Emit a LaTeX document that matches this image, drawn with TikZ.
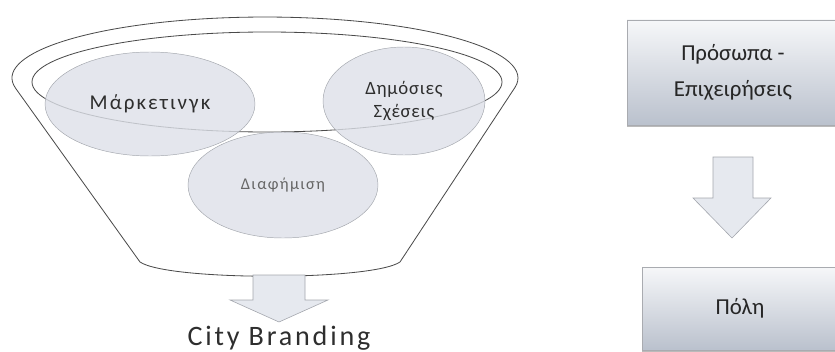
\documentclass[tikz,border=0pt]{standalone}
\usepackage{fontspec}
\setmainfont{Carlito}
\usetikzlibrary{positioning,calc,shapes.geometric,shadows}
\definecolor{fnLine}{HTML}{4A4A4A}
\definecolor{fnOval}{HTML}{DDE0E8}
\definecolor{fnOvalD}{HTML}{A3A6AD}
\definecolor{fnText}{HTML}{2E2E2E}
\definecolor{pbTop}{HTML}{F6F7F9}
\definecolor{pbBot}{HTML}{BAC1CD}
\definecolor{pbEdge}{HTML}{A9ABB0}
\definecolor{pbArrow}{HTML}{E6E9EF}
\tikzset{
  fn-line/.style={draw=fnLine, line width=0.7pt},
  fn-oval/.style={ellipse, draw=fnOvalD, line width=0.4pt, fill=fnOval,
    fill opacity=0.8, text opacity=1, inner sep=0pt, align=center,
    text=fnText, font=\fontsize{16}{19}\selectfont\addfontfeatures{LetterSpace=4}},
  fn-title/.style={font=\fontsize{24}{28}\selectfont\addfontfeatures{LetterSpace=10},
    text=fnText},
  pb-box/.style={draw=pbEdge, line width=0.5pt, top color=pbTop,
    bottom color=pbBot, font=\fontsize{19.5}{31}\selectfont, align=center,
    text=black!85, drop shadow={shadow xshift=0pt, shadow yshift=-1.5pt,
    opacity=0.45, fill=black!60}},
  pb-arrow/.style={draw=fnOvalD, line width=0.5pt, fill=pbArrow}
}
\begin{document}
\begin{tikzpicture}[x=0.03cm, y=0.03cm]
\useasboundingbox (0,0) rectangle (835,351);
\clip (0,0) rectangle (835,351);

% funnel
\draw[fn-line] (15.7,262.6) arc[start angle=189.8, end angle=-9, x radius=253, y radius=61]
  -- (400,89) .. controls (372,70) and (168,70) .. (140,89) -- cycle;
\draw[fn-line] (267,269) ellipse[x radius=235, y radius=50];

\node[fn-oval, minimum width=6.3cm, minimum height=3.12cm,
  font=\fontsize{18}{20}\selectfont\addfontfeatures{LetterSpace=10}] (mark) at (150,247)
  {Μάρκετινγκ};
\node[fn-oval, minimum width=4.86cm, minimum height=3.24cm] (dimos) at (404,250)
  {Δημόσιες\\Σχέσεις};
\node[fn-oval, minimum width=5.7cm, minimum height=3.18cm, text=black!60,
  font=\fontsize{14}{16}\selectfont\addfontfeatures{LetterSpace=8}] (diaf) at (283,166)
  {Διαφήμιση};

\draw[pb-arrow] (253,76) -- (253,51) -- (230,51) -- (279,29) -- (328,51)
  -- (305,51) -- (305,76) -- cycle;
\node[fn-title] (city) at (279,13) {City Branding};

% right column
\node[pb-box, minimum width=6.36cm, minimum height=3.15cm] (prosopa) at (733,278.5)
  {Πρόσωπα -\\Επιχειρήσεις};
\node[pb-box, minimum width=5.88cm, minimum height=2.49cm] (poli) at (740,42.5) {Πόλη};

\draw[pb-arrow] (713,194) -- (713,153) -- (693,153) -- (732,113) -- (771,153)
  -- (753,153) -- (753,194) -- cycle;
\end{tikzpicture}
\end{document}
